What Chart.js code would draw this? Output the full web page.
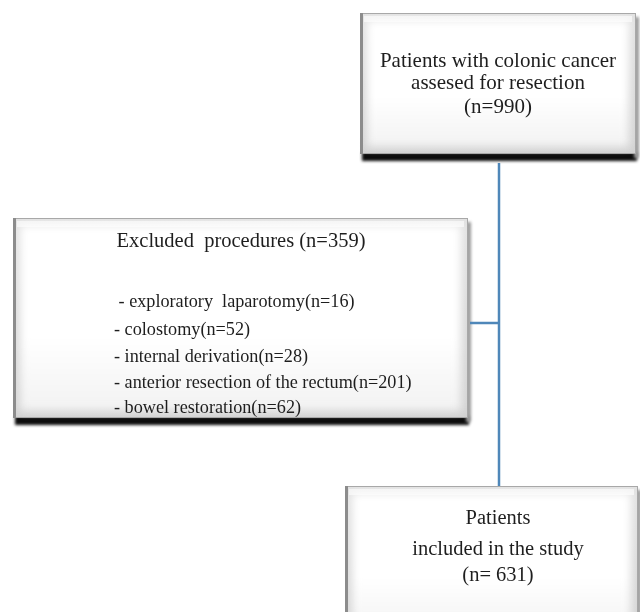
<!DOCTYPE html>
<html>
<head>
<meta charset="utf-8">
<script src="https://cdn.jsdelivr.net/npm/chart.js@4.4.1/dist/chart.umd.min.js"></script>
<style>
  html, body { margin: 0; padding: 0; background: #fff; }
  #wrap { width: 640px; height: 612px; }
</style>
</head>
<body>
<div id="wrap"><canvas id="myChart" width="640" height="612"></canvas></div>
<script>
const ctx = document.getElementById("myChart");

// counts
const assessedLabel = ["Patients with colonic cancer", "assesed for resection"];
const assessedCount = 990;
const excludedLabel = "Excluded  procedures";
const excludedCount = 359;
const procedures = [
  " - exploratory  laparotomy",
  "- colostomy",
  "- internal derivation",
  "- anterior resection of the rectum",
  "- bowel restoration",
];
const procedureCounts = [16, 52, 28, 201, 62];
const includedLabel = ["Patients", "included in the study"];
const includedCount = 631;

// layout, in diagram units (x: 0-640, y: 0-612 from the top)
const boxes = [
  {
    x1: 360, y1: 13, x2: 636, y2: 154,
    lines: [
      { text: assessedLabel[0], y: 61, cx: 498, size: 21 },
      { text: assessedLabel[1], y: 83, cx: 498, size: 21 },
      { text: "(n=" + assessedCount + ")", y: 107, cx: 498, size: 21 },
    ],
  },
  {
    x1: 13, y1: 218, x2: 468, y2: 418,
    lines: [
      { text: excludedLabel + " (n=" + excludedCount + ")", y: 242, cx: 241, size: 20.5 },
    ].concat(procedures.map((p, i) => ({
      text: p + "(n=" + procedureCounts[i] + ")",
      y: [302, 330, 357, 383, 408][i],
      x: 114,
      size: 18.2,
    }))),
  },
  {
    x1: 345, y1: 486, x2: 638, y2: 640,
    lines: [
      { text: includedLabel[0], y: 519, cx: 498, size: 20.5 },
      { text: includedLabel[1], y: 550, cx: 498, size: 20.5 },
      { text: "(n= " + includedCount + ")", y: 576, cx: 498, size: 20.5 },
    ],
  },
];

const boxPlugin = {
  id: "boxes",
  beforeDatasetsDraw(chart) {
    const c = chart.ctx;
    const sx = chart.scales.x;
    const sy = chart.scales.y;
    boxes.forEach((b) => {
      const L = sx.getPixelForValue(b.x1);
      const R = sx.getPixelForValue(b.x2);
      const T = sy.getPixelForValue(b.y1);
      const B = sy.getPixelForValue(b.y2);
      const w = R - L;
      const h = B - T;
      c.save();
      // heavy bottom shadow
      c.fillStyle = "#0c0c0c";
      c.filter = "blur(1.5px)";
      c.fillRect(L + 2, B - 2, w - 1, 9);
      c.fillStyle = "#9a9a9a";
      c.fillRect(R - 2, T + 4, 5, h);
      c.filter = "none";
      // body + bevel
      const g = c.createLinearGradient(0, T, 0, B);
      g.addColorStop(0, "#e2e2e2");
      g.addColorStop(1, "#d2d2d2");
      c.fillStyle = g;
      c.fillRect(L, T, w, h);
      c.filter = "blur(4px)";
      const g2 = c.createLinearGradient(0, T, 0, B);
      g2.addColorStop(0, "#ffffff");
      g2.addColorStop(0.6, "#ffffff");
      g2.addColorStop(1, "#f1f1f1");
      c.fillStyle = g2;
      c.fillRect(L + 7, T + 7, w - 14, h - 14);
      c.filter = "none";
      c.fillStyle = "rgba(255,255,255,0.6)";
      c.fillRect(L + 4, T + 3, w - 8, 6);
      // border
      c.strokeStyle = "#a8a8a8";
      c.lineWidth = 1;
      c.strokeRect(L + 0.5, T + 0.5, w - 1, h - 1);
      c.fillStyle = "#8c8c8c";
      c.fillRect(L, T, 3, h);
      c.restore();

      // text
      c.save();
      c.fillStyle = "#1e1e1e";
      c.textBaseline = "middle";
      b.lines.forEach((ln) => {
        const ty = sy.getPixelForValue(ln.y);
        c.font = ln.size + "px 'Liberation Serif', 'Times New Roman', serif";
        if (ln.cx !== undefined) {
          c.textAlign = "center";
          c.fillText(ln.text, sx.getPixelForValue(ln.cx), ty);
        } else {
          c.textAlign = "left";
          c.fillText(ln.text, sx.getPixelForValue(ln.x), ty);
        }
      });
      c.restore();
    });
  },
};

// connector lines
const trunk = [
  { x: 499, y: 163 },
  { x: 499, y: 486 },
];
const branch = [
  { x: 470, y: 323 },
  { x: 499, y: 323 },
];

const data = {
  datasets: [
    {
      data: trunk,
      showLine: true,
      borderColor: "#4f87b9",
      borderWidth: 2.5,
      pointRadius: 0,
    },
    {
      data: branch,
      showLine: true,
      borderColor: "#4f87b9",
      borderWidth: 2.5,
      pointRadius: 0,
    },
  ],
};

const config = {
  type: "scatter",
  data: data,
  options: {
    responsive: false,
    animation: false,
    layout: { padding: 0 },
    plugins: { legend: { display: false }, tooltip: { enabled: false } },
    scales: {
      x: { type: "linear", min: 0, max: 640, display: false },
      y: { type: "linear", min: 0, max: 612, reverse: true, display: false },
    },
  },
  plugins: [boxPlugin],
};
const myChart = new Chart(ctx, config);
</script>
</body>
</html>
